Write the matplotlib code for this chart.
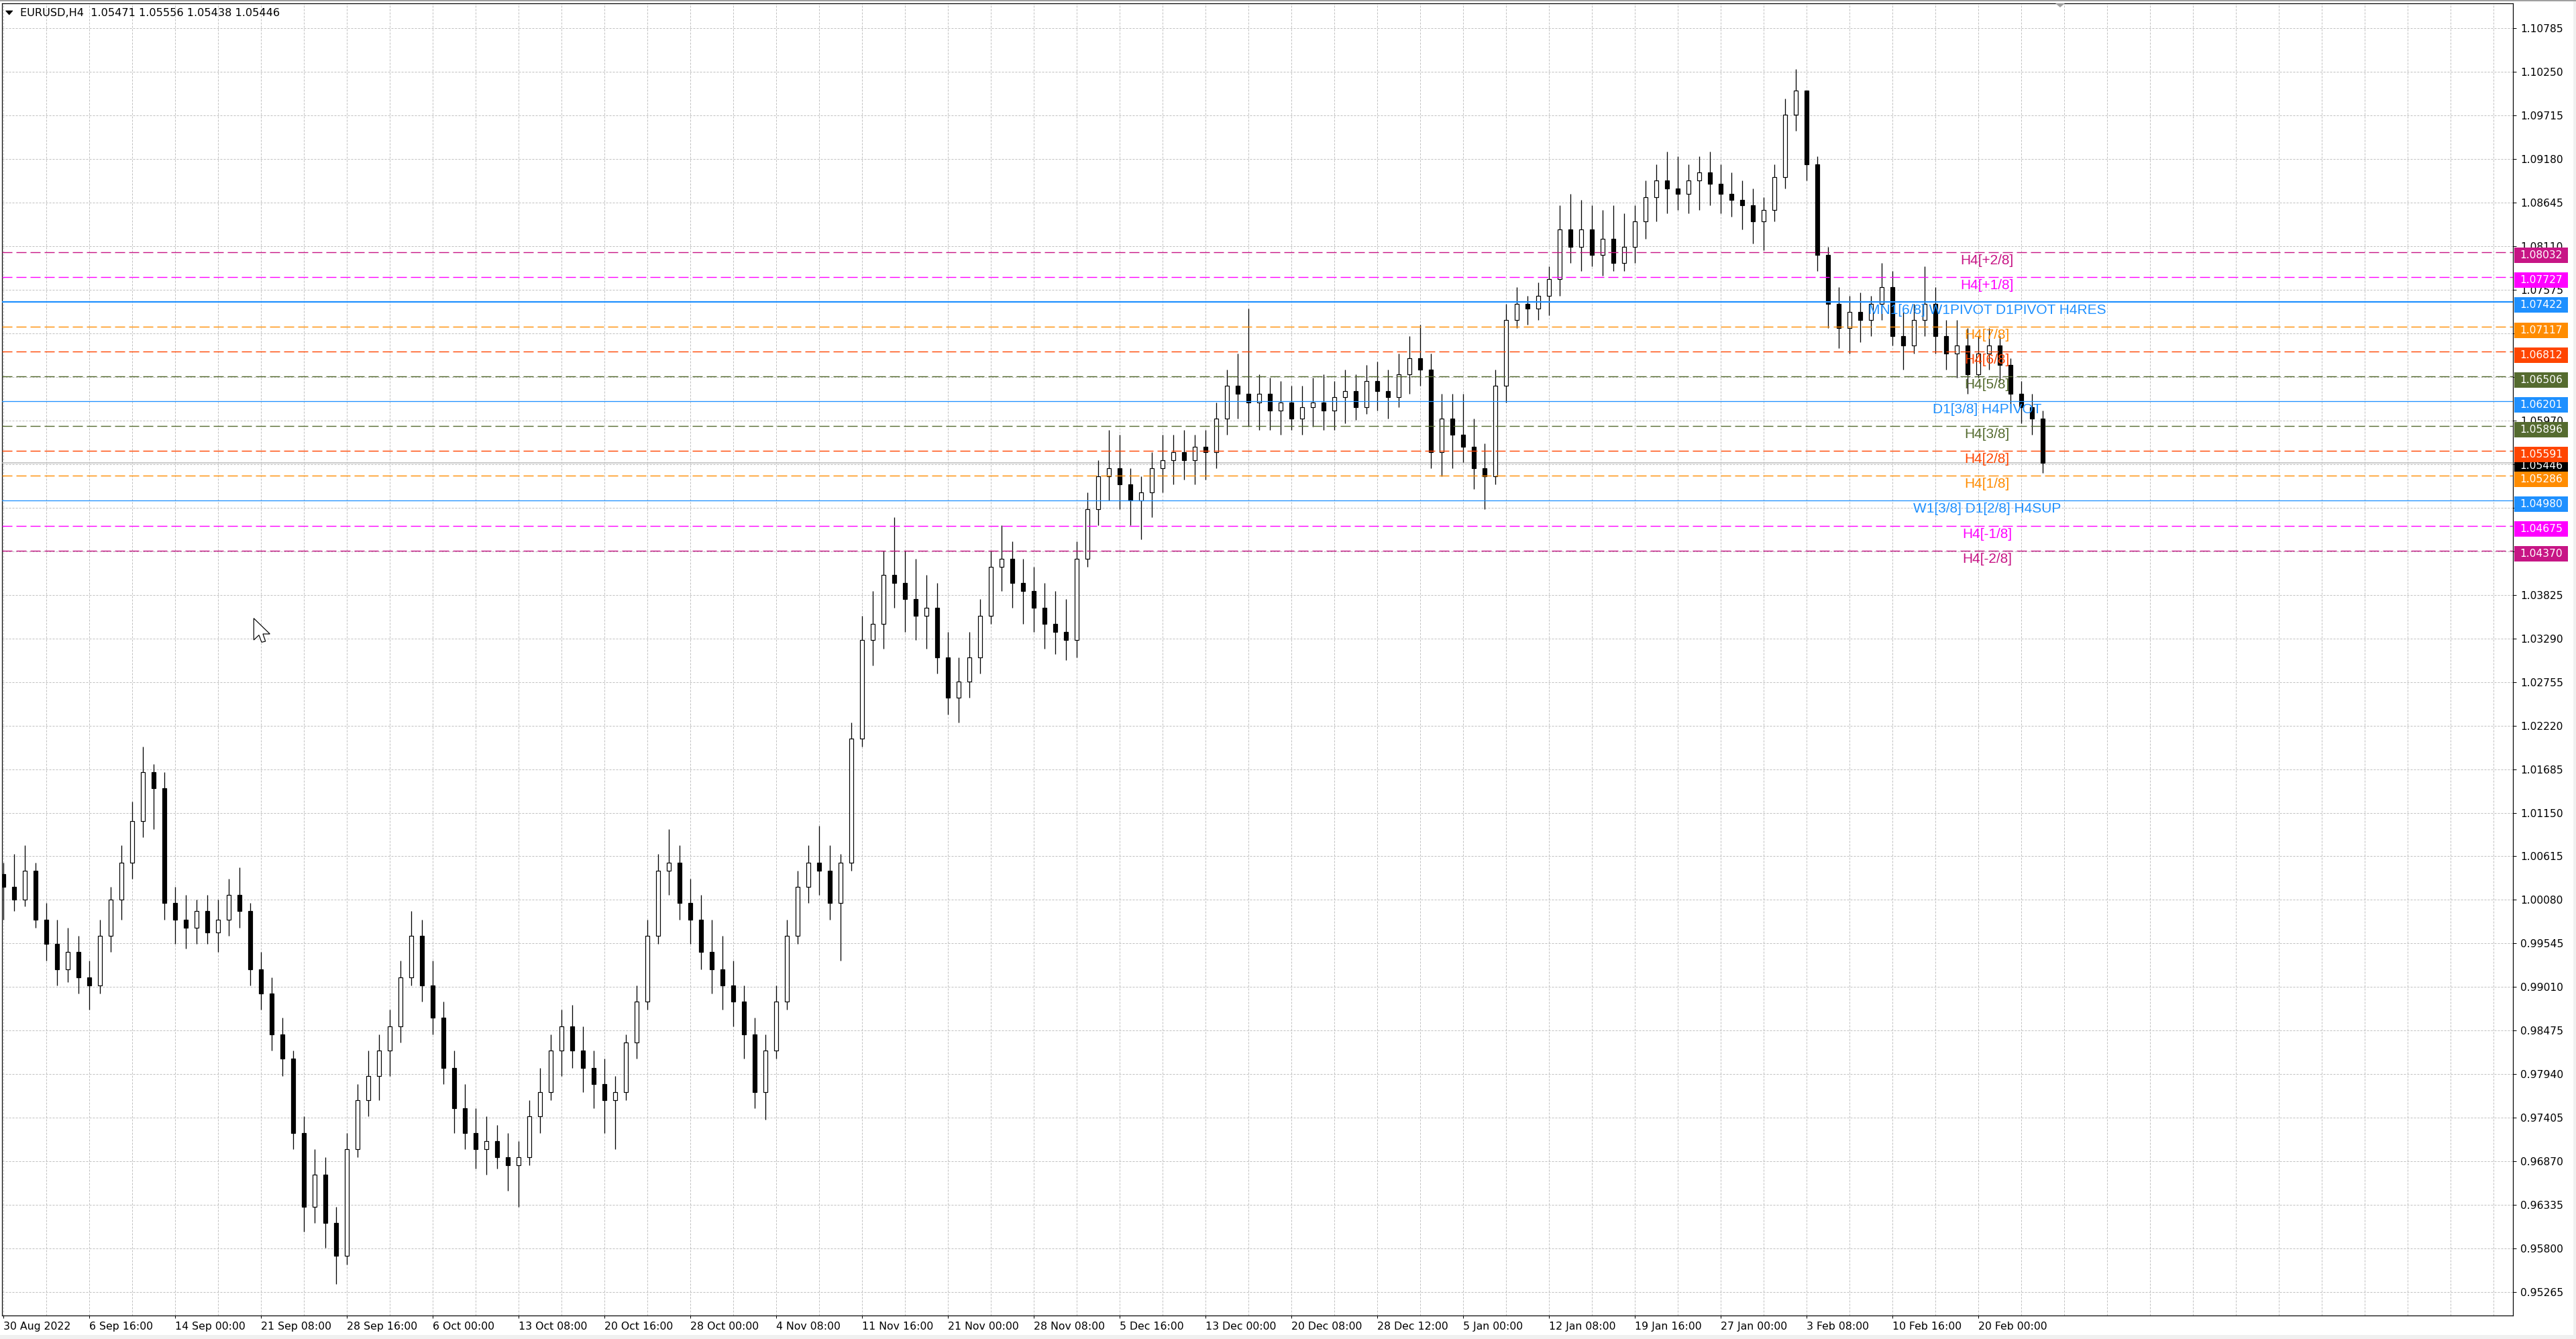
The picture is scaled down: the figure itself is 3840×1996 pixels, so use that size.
import numpy as np
import matplotlib.pyplot as plt
from matplotlib.patches import Rectangle, Polygon
from matplotlib.transforms import blended_transform_factory

plt.rcParams['lines.scale_dashes'] = False
plt.rcParams['font.family'] = ['DejaVu Sans']

# --- data: EURUSD H4, each candle here groups 4 H4 bars; open = previous close
first_open = 1.0040
highs = [1.0054, 1.0064, 1.0075, 1.0054, 1.0004, 0.9984, 0.9974, 0.9964, 0.9933, 0.9984,
         1.0024, 1.0075, 1.0129, 1.0196, 1.0175, 1.0165, 1.0024, 1.0014, 1.0008, 1.0014,
         1.0008, 1.0034, 1.0048, 1.0004, 0.9944, 0.9913, 0.9863, 0.9823, 0.9742, 0.9702,
         0.9692, 0.9631, 0.9722, 0.9782, 0.9823, 0.9843, 0.9873, 0.9933, 0.9994, 0.9984,
         0.9933, 0.9883, 0.9823, 0.9782, 0.9752, 0.9742, 0.9732, 0.9722, 0.9712, 0.9762,
         0.9802, 0.9843, 0.9873, 0.9879, 0.9853, 0.9823, 0.9813, 0.9792, 0.9843, 0.9903,
         0.9984, 1.0064, 1.0095, 1.0075, 1.0034, 1.0014, 0.9984, 0.9964, 0.9933, 0.9903,
         0.9863, 0.9843, 0.9903, 0.9984, 1.0044, 1.0075, 1.0099, 1.0075, 1.0064, 1.0226,
         1.0357, 1.0387, 1.0437, 1.0478, 1.0437, 1.0427, 1.0407, 1.0397, 1.0337, 1.0306,
         1.0337, 1.0377, 1.0437, 1.0468, 1.0448, 1.0427, 1.0417, 1.0397, 1.0387, 1.0377,
         1.0448, 1.0508, 1.0548, 1.0585, 1.0579, 1.0538, 1.0528, 1.0558, 1.0579, 1.0579,
         1.0585, 1.0579, 1.0585, 1.0619, 1.0659, 1.0679, 1.0734, 1.0653, 1.0649, 1.0645,
         1.0639, 1.0639, 1.0649, 1.0653, 1.0645, 1.0659, 1.0653, 1.0665, 1.0669, 1.0659,
         1.0679, 1.0700, 1.0714, 1.0679, 1.0629, 1.0629, 1.0629, 1.0599, 1.0568, 1.0659,
         1.0740, 1.0760, 1.0750, 1.0766, 1.0786, 1.0861, 1.0875, 1.0867, 1.0861, 1.0855,
         1.0861, 1.0851, 1.0861, 1.0891, 1.0911, 1.0927, 1.0921, 1.0911, 1.0921, 1.0927,
         1.0911, 1.0901, 1.0891, 1.0881, 1.0871, 1.0911, 1.0992, 1.1028, 1.0992, 1.0921,
         1.0810, 1.0760, 1.0750, 1.0754, 1.0750, 1.0790, 1.0780, 1.0730, 1.0740, 1.0786,
         1.0760, 1.0720, 1.0720, 1.0710, 1.0700, 1.0710, 1.0700, 1.0673, 1.0645, 1.0629,
         1.0609]
lows = [0.9984, 0.9994, 1.0000, 0.9974, 0.9933, 0.9903, 0.9907, 0.9893, 0.9873, 0.9893,
        0.9944, 0.9984, 1.0034, 1.0085, 1.0095, 0.9984, 0.9954, 0.9948, 0.9954, 0.9954,
        0.9944, 0.9964, 0.9974, 0.9903, 0.9873, 0.9823, 0.9792, 0.9702, 0.9601, 0.9611,
        0.9581, 0.9536, 0.9560, 0.9692, 0.9742, 0.9762, 0.9792, 0.9833, 0.9903, 0.9883,
        0.9843, 0.9782, 0.9722, 0.9702, 0.9678, 0.9671, 0.9678, 0.9651, 0.9631, 0.9682,
        0.9722, 0.9762, 0.9792, 0.9802, 0.9772, 0.9752, 0.9722, 0.9702, 0.9762, 0.9813,
        0.9873, 0.9954, 1.0014, 0.9984, 0.9954, 0.9923, 0.9893, 0.9873, 0.9853, 0.9813,
        0.9752, 0.9738, 0.9813, 0.9873, 0.9954, 1.0004, 1.0014, 0.9984, 0.9933, 1.0044,
        1.0196, 1.0296, 1.0316, 1.0367, 1.0337, 1.0327, 1.0316, 1.0286, 1.0236, 1.0226,
        1.0256, 1.0286, 1.0347, 1.0387, 1.0367, 1.0347, 1.0337, 1.0316, 1.0310, 1.0302,
        1.0306, 1.0417, 1.0468, 1.0498, 1.0488, 1.0468, 1.0451, 1.0478, 1.0508, 1.0518,
        1.0524, 1.0518, 1.0524, 1.0538, 1.0579, 1.0599, 1.0589, 1.0585, 1.0585, 1.0579,
        1.0585, 1.0579, 1.0589, 1.0585, 1.0585, 1.0593, 1.0597, 1.0605, 1.0609, 1.0599,
        1.0613, 1.0629, 1.0639, 1.0538, 1.0528, 1.0538, 1.0545, 1.0512, 1.0488, 1.0518,
        1.0619, 1.0710, 1.0714, 1.0720, 1.0726, 1.0750, 1.0790, 1.0780, 1.0786, 1.0774,
        1.0780, 1.0780, 1.0790, 1.0820, 1.0841, 1.0851, 1.0855, 1.0851, 1.0855, 1.0861,
        1.0851, 1.0847, 1.0831, 1.0814, 1.0806, 1.0841, 1.0881, 1.0952, 1.0891, 1.0780,
        1.0710, 1.0685, 1.0679, 1.0693, 1.0700, 1.0720, 1.0689, 1.0659, 1.0679, 1.0700,
        1.0679, 1.0659, 1.0649, 1.0629, 1.0649, 1.0659, 1.0645, 1.0609, 1.0593, 1.0579,
        1.0532]
closes = [1.0024, 1.0008, 1.0044, 0.9984, 0.9954, 0.9923, 0.9944, 0.9913, 0.9903, 0.9964,
          1.0008, 1.0054, 1.0105, 1.0165, 1.0145, 1.0004, 0.9984, 0.9974, 0.9994, 0.9968,
          0.9984, 1.0014, 0.9994, 0.9923, 0.9893, 0.9843, 0.9813, 0.9722, 0.9631, 0.9671,
          0.9611, 0.9571, 0.9702, 0.9762, 0.9792, 0.9823, 0.9853, 0.9913, 0.9964, 0.9903,
          0.9863, 0.9802, 0.9752, 0.9722, 0.9702, 0.9712, 0.9692, 0.9682, 0.9692, 0.9742,
          0.9772, 0.9823, 0.9853, 0.9823, 0.9802, 0.9782, 0.9762, 0.9772, 0.9833, 0.9883,
          0.9964, 1.0044, 1.0054, 1.0004, 0.9984, 0.9944, 0.9923, 0.9903, 0.9883, 0.9843,
          0.9772, 0.9823, 0.9883, 0.9964, 1.0024, 1.0054, 1.0044, 1.0004, 1.0054, 1.0206,
          1.0327, 1.0347, 1.0407, 1.0397, 1.0377, 1.0357, 1.0367, 1.0306, 1.0256, 1.0276,
          1.0306, 1.0357, 1.0417, 1.0427, 1.0397, 1.0387, 1.0367, 1.0347, 1.0337, 1.0327,
          1.0427, 1.0488, 1.0528, 1.0538, 1.0518, 1.0498, 1.0508, 1.0538, 1.0548, 1.0558,
          1.0548, 1.0564, 1.0558, 1.0599, 1.0639, 1.0629, 1.0619, 1.0629, 1.0609, 1.0619,
          1.0599, 1.0613, 1.0619, 1.0609, 1.0625, 1.0633, 1.0613, 1.0645, 1.0633, 1.0625,
          1.0653, 1.0673, 1.0659, 1.0558, 1.0599, 1.0579, 1.0564, 1.0538, 1.0528, 1.0639,
          1.0720, 1.0740, 1.0734, 1.0750, 1.0770, 1.0831, 1.0810, 1.0831, 1.0800, 1.0820,
          1.0790, 1.0810, 1.0841, 1.0871, 1.0891, 1.0881, 1.0875, 1.0891, 1.0901, 1.0887,
          1.0875, 1.0867, 1.0861, 1.0841, 1.0855, 1.0895, 1.0972, 1.1002, 1.0911, 1.0800,
          1.0740, 1.0710, 1.0730, 1.0720, 1.0740, 1.0760, 1.0700, 1.0689, 1.0720, 1.0740,
          1.0700, 1.0679, 1.0689, 1.0653, 1.0679, 1.0689, 1.0665, 1.0629, 1.0613, 1.0599,
          1.05446]

price_ticks = [0.95265, 0.95800, 0.96335, 0.96870, 0.97405, 0.97940, 0.98475, 0.99010,
               0.99545, 1.00080, 1.00615, 1.01150, 1.01685, 1.02220, 1.02755, 1.03290,
               1.03825, 1.04360, 1.04895, 1.05430, 1.05965, 1.06500, 1.07035, 1.07570,
               1.08105, 1.08640, 1.09175, 1.09710, 1.10245, 1.10780]
price_tick_labels = ['0.95265', '0.95800', '0.96335', '0.96870', '0.97405', '0.97940',
                     '0.98475', '0.99010', '0.99545', '1.00080', '1.00615', '1.01150',
                     '1.01685', '1.02220', '1.02755', '1.03290', '1.03825', '1.04360',
                     '1.04895', '1.05430', '1.05970', '1.06505', '1.07040', '1.07575',
                     '1.08110', '1.08645', '1.09180', '1.09715', '1.10250', '1.10785']
date_labels = ['30 Aug 2022', '6 Sep 16:00', '14 Sep 00:00', '21 Sep 08:00', '28 Sep 16:00',
               '6 Oct 00:00', '13 Oct 08:00', '20 Oct 16:00', '28 Oct 00:00', '4 Nov 08:00',
               '11 Nov 16:00', '21 Nov 00:00', '28 Nov 08:00', '5 Dec 16:00', '13 Dec 00:00',
               '20 Dec 08:00', '28 Dec 12:00', '5 Jan 00:00', '12 Jan 08:00', '19 Jan 16:00',
               '27 Jan 00:00', '3 Feb 08:00', '10 Feb 16:00', '20 Feb 00:00']

level_prices = [1.08032, 1.07727, 1.07422, 1.07117, 1.06812, 1.06506, 1.06201,
                1.05896, 1.05591, 1.05286, 1.04980, 1.04675, 1.04370]
level_names = ['H4[+2/8]', 'H4[+1/8]', 'MN1[6/8] W1PIVOT D1PIVOT H4RES', 'H4[7/8]',
               'H4[6/8]', 'H4[5/8]', 'D1[3/8] H4PIVOT', 'H4[3/8]', 'H4[2/8]', 'H4[1/8]',
               'W1[3/8] D1[2/8] H4SUP', 'H4[-1/8]', 'H4[-2/8]']
level_colors = ['#C71585', '#FF00FF', '#1E90FF', '#FF8C00', '#FF4500', '#556B2F', '#1E90FF',
                '#556B2F', '#FF4500', '#FF8C00', '#1E90FF', '#FF00FF', '#C71585']
level_solid = [False, False, True, False, False, False, True,
               False, False, False, True, False, False]

last_price = 1.05446
title = 'EURUSD,H4  1.05471 1.05556 1.05438 1.05446'

# --- figure geometry (pixels of the 3840x1996 screenshot)
W, H = 3840, 1996
PX = 72 / 100  # points per pixel at dpi 100
fig = plt.figure(figsize=(W / 100, H / 100), dpi=100)
fig.patch.set_facecolor('white')
ax = fig.add_axes([3 / W, 1 - 1961 / H, 3743 / W, 1956 / H])
ax.set_xlim(-0.125, -0.125 + 3743 / 16)
ax.set_ylim(0.94977, 1.11087)
for s in ax.spines.values():
    s.set_linewidth(1.2 * PX)
    s.set_color('black')

# grid
ax.set_yticks(price_ticks)
ax.set_yticklabels(price_tick_labels)
ax.set_xticks(np.arange(0, 8 * len(date_labels), 8))
ax.set_xticklabels(date_labels)
ax.set_xticks(np.arange(0, 234, 4), minor=True)
ax.xaxis.remove_overlapping_locs = False
grid_style = dict(color='#c0c0c0', lw=1.0 * PX, ls=(0, (3 * PX, 2 * PX)))
ax.grid(axis='y', which='major', **grid_style)
ax.grid(axis='x', which='minor', **grid_style)
ax.grid(axis='x', which='major', visible=False)
ax.set_axisbelow(True)

ax.yaxis.tick_right()
ax.tick_params(axis='y', which='major', length=5 * PX, width=1 * PX, pad=6 * PX,
               labelsize=11.2, colors='black')
ax.tick_params(axis='x', which='major', length=4 * PX, width=1 * PX, pad=5 * PX,
               labelsize=11.3)
ax.tick_params(axis='x', which='minor', length=0)
for lbl in ax.get_xticklabels():
    lbl.set_ha('left')

# candles
x = np.arange(len(closes))
c = np.array(closes)
o = np.array([first_open] + closes[:-1])
hi = np.array(highs)
lo = np.array(lows)
up = c >= o
ax.vlines(x, lo, hi, color='black', lw=1.3 * PX, zorder=4)
ax.bar(x[up], (c - o)[up], bottom=o[up], width=0.42, facecolor='white',
       edgecolor='black', lw=1.2 * PX, zorder=5)
ax.bar(x[~up], (c - o)[~up], bottom=o[~up], width=0.42, facecolor='black',
       edgecolor='black', lw=1.2 * PX, zorder=5)

# last price line
ax.axhline(last_price, color='#c0c0c0', lw=1.6 * PX, zorder=3)

# level lines and their names
tr = blended_transform_factory(ax.transAxes, ax.transData)
for p, name, col, solid in zip(level_prices, level_names, level_colors, level_solid):
    if solid:
        lw = 2.2 if p == 1.07422 else 1.3
        ax.axhline(p, color=col, lw=lw * PX, zorder=6)
    else:
        ax.axhline(p, color=col, lw=1.4 * PX, ls=(0, (15 * PX, 6 * PX)), zorder=6)
    ax.annotate(name, xy=(0.7905, p), xycoords=tr, xytext=(0, -12.5 * PX),
                textcoords='offset points', ha='center', va='center', color=col,
                fontsize=15, family='Liberation Sans', zorder=9)

# price boxes on the right scale
box_h = 23 / 12141
shift = 5 / 12141
bx0 = (3748 - 3) / 3743
bw = 80 / 3743


def price_box(p, col, z):
    ax.add_patch(Rectangle((bx0, p - shift - box_h / 2), bw, box_h, transform=tr,
                           facecolor=col, edgecolor='none', clip_on=False, zorder=z))
    ax.text(bx0 + bw / 2, p - shift, '%.5f' % p, transform=tr, ha='center',
            va='center', color='white', fontsize=11.2, clip_on=False, zorder=z + 0.1)


price_box(last_price, 'black', 7)
for p, col in zip(level_prices, level_colors):
    price_box(p, col, 8)

# title
def fx(px):
    return px / W


def fy(py):
    return 1 - py / H


fig.patches.append(Polygon([(fx(8.5), fy(16)), (fx(19), fy(16)), (fx(13.7), fy(22))],
                           closed=True, transform=fig.transFigure, facecolor='black',
                           edgecolor='black', lw=0.5))
fig.text(fx(30), fy(19.5), title, fontsize=11.6, ha='left', va='center')

# chart shift marker
fig.patches.append(Polygon([(fx(3064), fy(5)), (fx(3078), fy(5)), (fx(3071), fy(11))],
                           closed=True, transform=fig.transFigure, facecolor='#a0a0a0',
                           edgecolor='none'))

# mouse cursor
cursor = [(378.3, 921.7), (378.3, 954), (386, 946.7), (390, 957.3), (395.7, 956),
          (392, 945), (402.3, 945)]
fig.patches.append(Polygon([(fx(a), fy(b)) for a, b in cursor], closed=True,
                           transform=fig.transFigure, facecolor='white',
                           edgecolor='black', lw=1.2 * PX, zorder=20))

# window frame
fig.patches.append(Rectangle((0, 0), 1, fy(1990), transform=fig.transFigure,
                             facecolor='#f0f0f0', edgecolor='none'))
fig.patches.append(Rectangle((fx(3836), 0), 1 - fx(3836), 1, transform=fig.transFigure,
                             facecolor='#f0f0f0', edgecolor='none'))
fig.patches.append(Rectangle((0, fy(2)), 1, fy(0) - fy(2), transform=fig.transFigure,
                             facecolor='#a0a0a0', edgecolor='none'))

fig.savefig('out.png', dpi=100)
